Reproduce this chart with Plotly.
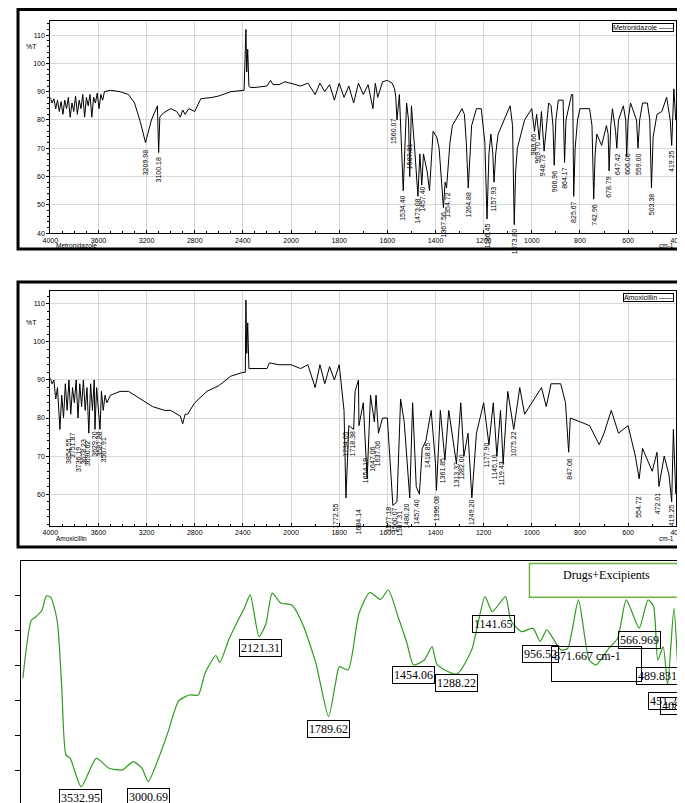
import plotly.graph_objects as go

# Metronidazole spectrum (wavenumber, %T)
wn1 = [4000, 3985, 3970, 3955, 3940, 3925, 3910, 3895, 3880, 3865, 3850, 3835, 3820, 3805, 3790,
       3775, 3760, 3745, 3730, 3715, 3700, 3685, 3670, 3655, 3640, 3625, 3610, 3595, 3580, 3565,
       3550, 3500, 3420, 3350, 3300, 3250, 3209, 3160, 3110, 3100, 3090, 3060, 3000, 2950, 2920, 2900,
       2880, 2850, 2800, 2750, 2650, 2600, 2500, 2420, 2390, 2375, 2368, 2360, 2350, 2340, 2300,
       2200, 2170, 2150, 2100, 2050, 2000, 1960, 1930, 1900, 1880, 1860, 1840, 1820, 1800, 1780,
       1760, 1740, 1720, 1700, 1680, 1660, 1650, 1640, 1620, 1600, 1580, 1570, 1565, 1560, 1550,
       1540, 1534, 1520, 1512, 1507, 1500, 1485, 1480, 1473, 1465, 1457, 1450, 1435, 1425, 1410, 1395,
       1385, 1367, 1360, 1354, 1340, 1330, 1290, 1280, 1272, 1264, 1250, 1230, 1210, 1195, 1186, 1178,
       1170, 1162, 1157, 1150, 1140, 1090, 1080, 1073, 1067, 1060, 1030,
       1000, 989, 980, 969, 960, 949, 930, 920, 912, 907, 900, 890, 870, 864, 858, 835, 830, 826, 820,
       810, 800, 760, 750, 743, 737, 730, 710, 690, 683, 679, 672, 665, 652, 647, 640, 620, 610, 606,
       600, 590, 565, 559, 552, 540, 520, 510, 503, 496, 480,
       460, 440, 425, 419, 410, 402]
t1 = [88, 86, 87.5, 84, 87, 83, 86.5, 82, 87, 84, 88, 81, 86, 83, 88.5,
      82, 87, 84, 89, 81, 88, 85, 89, 81, 88, 86, 89.5, 84, 89, 87,
      90, 90.5, 90, 89, 86, 79, 72, 80, 85, 68.5, 81, 82.5, 84, 83, 81, 83.5,
      82, 84, 83, 87.5, 88, 88.5, 90, 90.5, 90.5, 112, 97, 105, 92, 91.5, 91.5,
      92, 94, 92.5, 92.5, 93.5, 93, 92, 93, 89, 93, 90, 92.5, 87, 93, 88,
      92, 86, 93, 89, 92.5, 84, 93, 88, 93.5, 94, 93, 91, 88, 80, 89,
      70, 55, 86, 80, 60, 85, 68, 63, 53, 68, 57, 68, 62, 55, 76, 74,
      70, 49, 58, 56, 72, 78, 84, 82, 72, 56, 78, 84, 84, 72, 45, 68,
      75, 68, 58, 68, 75, 85, 78, 43, 62, 70, 80,
      84, 76, 82, 73, 83, 69, 86, 85, 78, 64, 80, 87, 87, 65, 80, 89, 89, 53, 70,
      80, 84, 84, 78, 52, 68, 75, 71, 78, 75, 62, 78, 84, 76, 70, 80, 85, 80, 67,
      80, 86, 80, 70, 80, 86, 86, 80, 56, 74, 82,
      83, 88, 80, 71, 91, 80]

# Amoxicillin spectrum (wavenumber, %T)
wn2 = [4000, 3985, 3970, 3955, 3940, 3920, 3905, 3890, 3875, 3860, 3845, 3830, 3815, 3800, 3785,
       3770, 3755, 3740, 3725, 3710, 3695, 3680, 3665, 3650, 3635, 3629, 3615, 3600, 3587, 3575,
       3560, 3545, 3530, 3500, 3420, 3350, 3250, 3150, 3050, 3000, 2920, 2900, 2880, 2860, 2800,
       2700, 2600, 2500, 2400, 2380, 2375, 2368, 2360, 2350, 2340, 2250, 2200, 2180, 2100, 2000,
       1960, 1930, 1900, 1880, 1860, 1840, 1820, 1800, 1790, 1780, 1772, 1760, 1740, 1734, 1720,
       1718, 1700, 1690, 1684, 1670, 1654, 1647, 1637, 1620, 1600, 1577, 1560, 1545, 1530, 1507,
       1495, 1480, 1467, 1455, 1440, 1418, 1400, 1396, 1380, 1361, 1345, 1313, 1295, 1282, 1265,
       1249, 1230, 1200, 1178, 1160, 1145, 1130, 1119, 1100, 1075, 1050, 1030, 1000, 960, 940,
       920, 880, 860, 847, 840, 800, 760, 720, 700, 670, 640, 600, 570, 554, 540,
       500, 480, 472, 450, 430, 419, 412, 402]
t2 = [90.5, 89, 90, 85, 88, 77, 86, 80, 89, 82, 90, 81, 88, 84, 90,
      80, 89, 83, 90, 82, 88, 76, 89, 82, 90, 77, 88, 83, 77, 87,
      82, 86, 84, 86, 87, 87, 85, 83, 82, 82, 80.5, 78.5, 81, 81, 84,
      87, 88.5, 91, 92, 92, 111, 97, 105, 93, 93, 93, 93, 94.5, 94, 94,
      93, 94, 88, 94, 89, 93.5, 90, 94, 88, 82, 59, 78, 77, 87, 90,
      78, 84, 69, 64, 86, 79, 86, 76, 80, 80, 57, 58, 85, 79, 59,
      84, 62, 60, 72, 74, 82, 68, 61, 82, 69, 82, 68, 84, 70, 76,
      59, 76, 84, 73, 84, 70, 82, 68, 87, 77, 88, 81, 84, 88, 83,
      89, 89, 84, 71, 80, 79, 78, 73, 76, 82, 76, 78, 70, 64, 72,
      66, 71, 62, 70, 65, 58, 77, 60]

# Drugs+Excipients trace (relative position along axis, signal)
pos3 = [7, 15.5, 20, 26.6, 31, 35.5, 42, 46.5, 51, 55.4, 66.5, 82, 95, 108.6, 119.7,
        128.5, 135, 146, 155, 166, 177, 186, 193, 204, 208, 217, 226, 233, 239, 248,
        255, 261.5, 270, 281.5, 292.5, 306, 319, 326, 330, 339, 350, 361, 372, 380, 390,
        399, 405.6, 416.7, 424.6, 430, 450, 465, 478.7, 486, 499.6, 505, 516, 527.5, 535, 541.7,
        556, 563, 574, 585, 592, 605, 614, 622.8, 636, 645, 650.7, 655, 660.5, 665, 671.5,
        677, 679.5]
sig3 = [36.5, 53, 54, 56, 60, 59.6, 53, 35, 14.6, 13.6, 5.5, 13.6, 10.8, 10.3, 12.7,
        10.8, 7, 14, 21, 30, 31.7, 31.7, 38, 43, 41, 47.4, 52.7, 56.5, 60.3, 48.4,
        52, 60.8, 58, 57.4, 52, 40.8, 25.5, 35, 39.8, 38.9, 55, 61, 59, 61.7, 54,
        46.5, 40.3, 41.7, 45.5, 40.3, 37.7, 44.6, 59.8, 55.5, 59.8, 53, 49.8, 50.8, 47, 50.3,
        44.6, 45, 58.9, 41.7, 40.3, 45, 47.9, 58.9, 50.8, 58.9, 57, 41.7, 45.5, 34.6, 56.5,
        33, 48.4]

# Peak labels
lab1 = ["3209.98", "3100.18", "1560.07", "1534.40", "1507.31", "1473.08", "1457.40", "1367.56",
        "1354.72", "1264.88", "1186.45", "1157.93", "1073.80", "989.66", "969.70", "948.73",
        "906.96", "864.17", "825.67", "742.96", "678.79", "647.42", "606.06", "559.00",
        "503.38", "419.25"]
lab1_x = [3209, 3100, 1575, 1540, 1510, 1473, 1455, 1367, 1350, 1264, 1186, 1157, 1073, 995,
          975, 955, 907, 864, 826, 743, 679, 647, 606, 559, 503, 419]
lab1_y = [70, 67.5, 81, 54, 72, 53, 57, 48, 55, 55, 44, 57, 42, 76, 73, 68.5, 63, 64, 52, 51,
          61, 69, 69, 69, 55, 70]

lab2 = ["3854.55", "3751.87", "3736.19", "3678.23", "3690.62", "3629.20", "3587.88", "3567.91",
        "1734.05", "1718.38", "1772.55", "1684.14", "1654.19", "1647.06", "1637.06", "1577.18",
        "1560.07", "1507.31", "1480.20", "1457.40", "1418.85", "1396.08", "1361.85", "1313.37",
        "1282.00", "1249.20", "1177.90", "1145.10", "1119.43", "1075.22", "847.06", "554.72",
        "472.01", "419.25"]
lab2_x = [3850, 3810, 3770, 3720, 3690, 3630, 3590, 3555, 1772, 1745, 1815, 1720, 1690, 1665,
          1640, 1597, 1573, 1550, 1520, 1480, 1433, 1395, 1370, 1315, 1290, 1250, 1190, 1155,
          1125, 1075, 847, 560, 480, 420]
lab2_y = [75, 76.5, 73, 75, 74.5, 77, 77, 75.5, 77, 77, 58, 56.5, 70, 73, 74.5, 57, 57, 56, 58,
          59, 74, 60, 70, 69, 71, 59, 74, 71, 69, 77, 70, 60, 61, 58]

lab3 = ["3532.95", "3000.69", "2121.31", "1789.62", "1454.06", "1288.22", "1141.65", "956.52",
        "566.969", "489.831", "451.26", "408"]
lab3_x = [66, 135, 250, 319, 406, 450, 487, 535, 636, 655, 664, 668]
lab3_y = [2.3, 2.6, 45, 22, 37.5, 35, 52, 43.5, 47.5, 37, 30, 28.5]

tick_wn = [4000, 3600, 3200, 2800, 2400, 2000, 1800, 1600, 1400, 1200, 1000, 800, 600, 400]


def ax(w):
    # the instrument plots 4000-2000 at half the scale of 2000-400
    w = list(w) if isinstance(w, (list, tuple)) else [w]
    return [x if x <= 2000 else 2000 + (x - 2000) / 2 for x in w]


fig = go.Figure()
fig.add_trace(go.Scatter(x=ax(wn1), y=t1, mode="lines", line=dict(color="black", width=1),
                         xaxis="x", yaxis="y"))
fig.add_trace(go.Scatter(x=ax(wn2), y=t2, mode="lines", line=dict(color="black", width=1),
                         xaxis="x2", yaxis="y2"))
fig.add_trace(go.Scatter(x=pos3, y=sig3, mode="lines", line=dict(color="#2e9a1e", width=1.2,
                         shape="spline", smoothing=0.6), xaxis="x3", yaxis="y3"))

small = dict(size=7, family="Arial", color="black")
xspec = dict(range=[3000, 400], tickvals=ax(tick_wn), ticktext=[str(t) for t in tick_wn],
             showgrid=True, gridcolor="#d8d8d8", linecolor="black", mirror=True, ticks="inside",
             ticklen=3, tickcolor="black", tickfont=small, zeroline=False,
             minor=dict(ticks="inside", ticklen=2, tickcolor="black",
                        tickvals=ax(list(range(4000, 399, -100)))))
yspec = dict(showgrid=True, gridcolor="#d8d8d8", linecolor="black", mirror=True, dtick=10,
             ticks="outside", ticklen=3, tickcolor="black", tickfont=small, zeroline=False,
             minor=dict(ticks="outside", ticklen=2, dtick=2, tickcolor="black"))

# panel geometry in pixels from the top of the page
H = 803
p1_top, p1_bot = 13, 226
p2_top, p2_bot = 284, 520

fig.update_layout(
    width=685, height=H, margin=dict(l=0, r=0, t=0, b=0), showlegend=False,
    plot_bgcolor="white", paper_bgcolor="white", font=dict(color="black"),
    xaxis=dict(xspec, domain=[0.0511, 0.984], anchor="y"),
    yaxis=dict(yspec, domain=[1 - p1_bot / H, 1 - p1_top / H], range=[40, 115], anchor="x"),
    xaxis2=dict(xspec, domain=[0.0511, 0.984], anchor="y2"),
    yaxis2=dict(yspec, domain=[1 - p2_bot / H, 1 - p2_top / H], range=[51.6, 113.4],
                tickvals=[60, 70, 80, 90, 100, 110], anchor="x2"),
    xaxis3=dict(domain=[0.0073, 0.993], range=[5, 680], anchor="y3", showgrid=False, zeroline=False,
                linecolor="black", mirror=True, ticks="outside", ticklen=5, tickcolor="black",
                tickvals=[130, 260, 390, 520, 650], showticklabels=False),
    yaxis3=dict(domain=[0.0025, 0.3088], range=[0, 70], anchor="x3", showgrid=False, zeroline=False,
                linecolor="black", mirror=True, ticks="outside", ticklen=5, tickcolor="black",
                tickvals=[10, 20, 30, 40, 50, 60], showticklabels=False),
)

shapes = [
    dict(type="rect", xref="paper", yref="paper", x0=0.003, x1=0.997, y0=1 - 242 / H, y1=0.998,
         line=dict(color="black", width=3)),
    dict(type="rect", xref="paper", yref="paper", x0=0.003, x1=0.997, y0=1 - 541 / H, y1=1 - 275 / H,
         line=dict(color="black", width=3)),
]
ann = []
for i, (xr, yr, labs, lx, ly, name, top, bot) in enumerate([
        ("x", "y", lab1, lab1_x, lab1_y, "Metronidazole", p1_top, p1_bot),
        ("x2", "y2", lab2, lab2_x, lab2_y, "Amoxicillin", p2_top, p2_bot)]):
    for s, x, y in zip(labs, lx, ly):
        ann.append(dict(x=ax(x)[0], y=y, xref=xr, yref=yr, text=s, textangle=-90, showarrow=False,
                        xanchor="center", yanchor="top", font=dict(size=7, family="Arial", color="black")))
    ann.append(dict(x=0.98, y=1 - (top + 2) / H, xref="paper", yref="paper", text=name + " ——",
                    showarrow=False, xanchor="right", yanchor="top", bordercolor="black",
                    borderwidth=1, borderpad=0, font=dict(size=7, family="Arial", color="black")))
    ann.append(dict(x=0.056, y=1 - (bot + 7) / H, xref="paper", yref="paper", text=name,
                    showarrow=False, xanchor="left", yanchor="top", font=dict(size=6.5, family="Arial", color="black")))
    ann.append(dict(x=0.984, y=1 - (bot + 7) / H, xref="paper", yref="paper", text="cm-1",
                    showarrow=False, xanchor="right", yanchor="top", font=dict(size=6.5, family="Arial", color="black")))
    ann.append(dict(x=0.012, y=106 if i == 0 else 105, xref="paper", yref=yr, text="%T",
                    showarrow=False, xanchor="left", font=dict(size=7, family="Arial", color="black")))

for s, x, y in zip(lab3, lab3_x, lab3_y):
    ann.append(dict(x=x, y=y, xref="x3", yref="y3", text=s, showarrow=False, bordercolor="black",
                    borderwidth=1, borderpad=1, bgcolor="rgba(255,255,255,0)",
                    font=dict(size=12, family="Liberation Serif", color="black")))
ann.append(dict(x=592, y=40.5, xref="x3", yref="y3", text="871.667 cm-1      <br> ", showarrow=False,
                bordercolor="black", borderwidth=1, borderpad=2, align="left",
                font=dict(size=12, family="Liberation Serif", color="black")))
ann.append(dict(x=603, y=66, xref="x3", yref="y3", text="Drugs+Excipients", showarrow=False,
                font=dict(size=12, family="Liberation Serif", color="black")))
shapes.append(dict(type="rect", xref="x3", yref="y3", x0=524, x1=682, y0=59.6, y1=69.3,
                   line=dict(color="#6db33f", width=1.5)))

fig.update_layout(shapes=shapes, annotations=ann)
fig.write_html("out.html")
